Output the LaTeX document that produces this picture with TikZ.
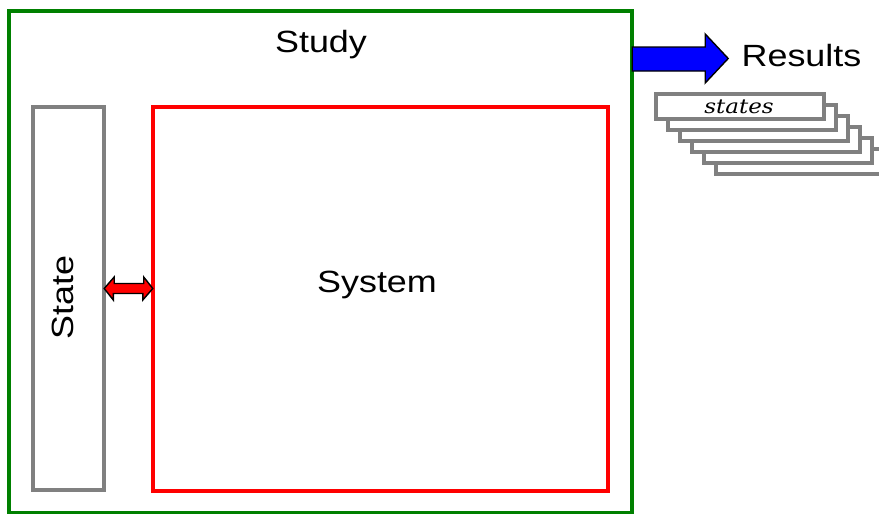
\documentclass[tikz,border=0pt]{standalone}
\usepackage{fontspec}
\setmainfont{Liberation Sans}
\newfontfamily\serifit{DejaVu Serif}
\usepackage{graphicx}
\definecolor{boxgreen}{RGB}{0,128,0}
\definecolor{boxgray}{RGB}{128,128,128}
\definecolor{boxred}{RGB}{255,0,0}
\definecolor{arrblue}{RGB}{0,0,255}
\begin{document}
\begin{tikzpicture}[x=1pt,y=-1pt,
  frame/.style={draw,line width=3.4pt,fill=none},
  lbl/.style={font=\fontsize{30.7}{36}\selectfont,inner sep=0pt,anchor=base},
  stackbox/.style={draw=boxgray,line width=3.4pt,fill=white},
  blockarrow/.style={draw=black,line width=1.4pt,line join=miter}]
\useasboundingbox (0,0) rectangle (879,514);
% main boxes
\draw[frame,boxgreen] (9,11) rectangle (632,512.5);
\draw[frame,boxgray] (33,107) rectangle (104,490);
\draw[frame,boxred] (153,107) rectangle (608,491);
% invisible anchors for the boxes
\node[inner sep=0pt,minimum width=71pt,minimum height=383pt] (state) at (68.5,298.5) {};
\node[inner sep=0pt,minimum width=455pt,minimum height=384pt] (system) at (380.5,299) {};
\node[inner sep=0pt,minimum width=623pt,minimum height=501.5pt] (study) at (320.5,261.75) {};
% texts
\node[lbl] (studylbl) at (321,52) {\scalebox{1.17}[1]{Study}};
\node[lbl] (systemlbl) at (377,292) {\scalebox{1.17}[1]{System}};
\node[lbl] (resultslbl) at (801.5,66) {\scalebox{1.17}[1]{Results}};
\node[lbl,rotate=90] (statelbl) at (73,297.5) {\scalebox{1.17}[1]{State}};
% blue arrow from study to results
\coordinate (ba) at (study.east |- 0,47);
\filldraw[blockarrow,fill=arrblue] (ba) -- ++(73,0) -- ++(0,-13) -- ++(23,24.5) -- ++(-23,24.5) -- ++(0,-12) -- ++(-73,0) -- cycle;
% red double arrow between state and system
\coordinate (ra) at (state.east |- 0,288.5);
\coordinate (rb) at (system.west |- 0,288.5);
\filldraw[blockarrow,fill=boxred] (ra) -- ++(10,-11.5) -- ++(0,6.5) -- ++(29.5,0) -- ++(0,-6.5)
  -- (rb) -- ++(-10,11.5) -- ++(0,-6.5) -- ++(-29.5,0) -- ++(0,6.5) -- cycle;
% stack of result states
\foreach \k in {5,4,3,2,1} {
  \draw[stackbox] (656+12*\k,94+11*\k) rectangle (824+12*\k,119+11*\k);
}
\node[stackbox,inner sep=0pt,minimum width=168pt,minimum height=25pt] (states0) at (740,106.5) {};
\node[inner sep=0pt,anchor=base,font=\serifit\itshape\fontsize{20}{24}\selectfont] (stateslbl) at (739,113) {\scalebox{1.15}[1]{states}};
\end{tikzpicture}
\end{document}
